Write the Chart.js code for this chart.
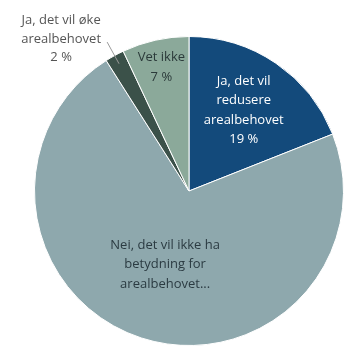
<!DOCTYPE html>
<html>
<head>
<meta charset="utf-8">
<script src="https://cdn.jsdelivr.net/npm/chart.js@4/dist/chart.umd.min.js"></script>
<style>
  html, body { margin: 0; padding: 0; background: #fff; }
  #wrap { width: 344px; height: 351px; position: relative; }
</style>
</head>
<body>
<div id="wrap"><canvas id="pieChart"></canvas></div>
<script>
// Survey answers
const categories = [
  'Ja, det vil redusere arealbehovet',
  'Nei, det vil ikke ha betydning for arealbehovet',
  'Ja, det vil øke arealbehovet',
  'Vet ikke'
];
const shares = [19, 72, 2, 7];
const labelLines = [
  ['Ja, det vil', 'redusere', 'arealbehovet', '19 %'],
  ['Nei, det vil ikke ha', 'betydning for', 'arealbehovet...'],
  ['Ja, det vil øke', 'arealbehovet', '2 %'],
  ['Vet ikke', '7 %']
];

const sliceColors = ['#134a7b', '#8ea8ad', '#3b5149', '#8ba99a'];
const textColors = ['#ffffff', '#2b3b42', '#555555', '#2b3a3a'];
// where each label sits: fraction of radius along slice mid-angle, null = outside with leader line
const labelRadius = [0.63, 0.5, null, 0.82];

const sliceLabels = {
  id: 'sliceLabels',
  afterDatasetsDraw(chart) {
    const ctx = chart.ctx;
    const arcs = chart.getDatasetMeta(0).data;
    ctx.save();
    ctx.font = '13px "Open Sans"';
    ctx.textAlign = 'center';
    ctx.textBaseline = 'middle';
    arcs.forEach((arc, i) => {
      const p = arc.getProps(['x', 'y', 'startAngle', 'endAngle', 'outerRadius'], true);
      const mid = (p.startAngle + p.endAngle) / 2;
      const lines = labelLines[i];
      let cx, cy, lh = 19.5;
      if (labelRadius[i] !== null) {
        cx = p.x + Math.cos(mid) * p.outerRadius * labelRadius[i];
        cy = p.y + Math.sin(mid) * p.outerRadius * labelRadius[i];
      } else {
        // leader line out of the slice
        const x0 = p.x + Math.cos(mid) * p.outerRadius * 0.94;
        const y0 = p.y + Math.sin(mid) * p.outerRadius * 0.94;
        const x1 = p.x + Math.cos(mid) * p.outerRadius * 1.1;
        const y1 = p.y + Math.sin(mid) * p.outerRadius * 1.1;
        ctx.strokeStyle = '#9a9a9a';
        ctx.lineWidth = 1;
        ctx.beginPath();
        ctx.moveTo(x0, y0);
        ctx.lineTo(x1, y1);
        ctx.stroke();
        cx = x1 - 46;
        cy = y1 - 3;
        lh = 18.5;
      }
      ctx.fillStyle = textColors[i];
      const top = cy - (lines.length - 1) * lh / 2;
      lines.forEach((t, k) => ctx.fillText(t, cx, top + k * lh));
    });
    ctx.restore();
  }
};

new Chart(document.getElementById('pieChart').getContext('2d'), {
  type: 'pie',
  data: {
    labels: categories,
    datasets: [{
      data: shares,
      backgroundColor: sliceColors,
      borderColor: '#ffffff',
      borderWidth: 1
    }]
  },
  options: {
    responsive: true,
    maintainAspectRatio: false,
    animation: false,
    layout: {
      padding: { left: 34, right: -4, top: 34, bottom: 3 }
    },
    plugins: {
      legend: { display: false },
      tooltip: { enabled: false }
    }
  },
  plugins: [sliceLabels]
});
</script>
</body>
</html>
